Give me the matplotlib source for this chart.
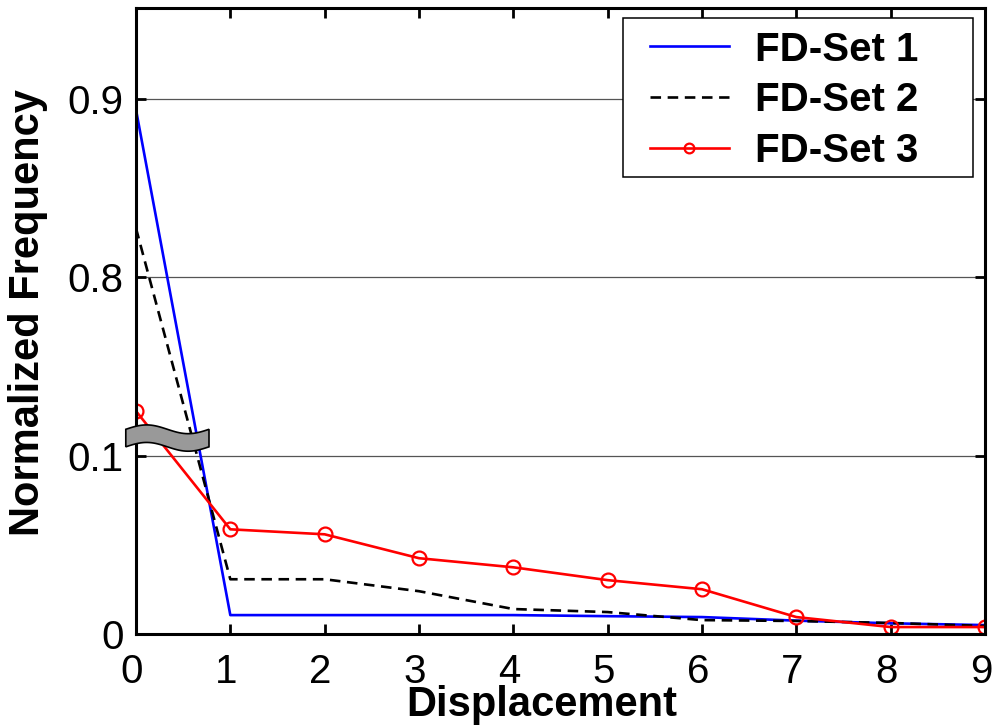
import numpy as np
import matplotlib
matplotlib.use("Agg")
import matplotlib.pyplot as plt
import matplotlib.transforms as mtransforms
from matplotlib.path import Path
from matplotlib.patches import PathPatch, Rectangle

plt.rcParams["font.family"] = ["Liberation Sans", "DejaVu Sans"]

displacement = [0, 1, 2, 3, 4, 5, 6, 7, 8, 9]
fd_set1 = [0.894, 0.0106, 0.0106, 0.0106, 0.0106, 0.0100, 0.0095, 0.0075, 0.0060, 0.0050]
fd_set2 = [0.8275, 0.0307, 0.0307, 0.0240, 0.0140, 0.0123, 0.0078, 0.0073, 0.0062, 0.0045]
fd_set3 = [0.725, 0.0587, 0.0559, 0.0425, 0.0374, 0.0302, 0.0251, 0.0095, 0.0039, 0.0039]
ytick_values = [0, 0.1, 0.8, 0.9]
ytick_labels = ["0", "0.1", "0.8", "0.9"]

# broken axis: 0..0.1 linear, 0.7.. shifted down by 0.6
def forward(y):
    y = np.asarray(y, dtype=float)
    return np.where(y <= 0.1, y, np.where(y >= 0.7, y - 0.6, 0.1 + (y - 0.1) * 1e-6))

def inverse(t):
    t = np.asarray(t, dtype=float)
    return np.where(t <= 0.1, t, t + 0.6)

fig = plt.figure(figsize=(9.94, 7.25), dpi=100)
ax = fig.add_axes([0.1368, 0.1255, 0.8542, 0.8635])
ax.set_yscale("function", functions=(forward, inverse))

ax.plot(displacement, fd_set1, color="blue", lw=1.9, label="FD-Set 1")
ax.plot(displacement, fd_set2, color="black", lw=1.9, ls=(0, (4, 2.5)), label="FD-Set 2")
ax.plot(displacement, fd_set3, color="red", lw=1.9, marker="o", ms=10,
        mfc="none", mec="red", mew=1.6, label="FD-Set 3")

ax.set_xlim(0, 9)
ax.set_ylim(0, 0.951)
ax.set_xticks(displacement)
ax.set_yticks(ytick_values)
ax.set_yticklabels(ytick_labels)
ax.minorticks_off()
ax.yaxis.grid(True, color="#555555", lw=0.9)
ax.set_axisbelow(True)
ax.tick_params(direction="in", length=7, width=2, labelsize=29, top=True, right=True)
ax.tick_params(axis="x", pad=14)
ax.tick_params(axis="y", pad=9)
for s in ax.spines.values():
    s.set_linewidth(2.2)

shift = mtransforms.ScaledTranslation(-4 / 100, 0, fig.dpi_scale_trans)
for lab in ax.get_xticklabels():
    lab.set_transform(lab.get_transform() + shift)

ax.set_xlabel("Displacement", fontsize=30, fontweight="bold")
ax.xaxis.set_label_coords(0.4776, -0.082)
ax.set_ylabel("Normalized Frequency", fontsize=30, fontweight="bold")
ax.yaxis.set_label_coords(-0.104, 0.514)

# legend box drawn separately (wide right margin like the original)
ax.add_patch(Rectangle((0.5736, 0.730), 0.4123, 0.254, transform=ax.transAxes,
                       facecolor="white", edgecolor="black", lw=1.1, zorder=4))
leg = ax.legend(loc="upper left", bbox_to_anchor=(0.6054, 0.964), frameon=False,
                prop={"weight": "bold", "size": 29}, handlelength=1.95,
                borderpad=0, labelspacing=0.32, handletextpad=0.65, borderaxespad=0)
leg.set_zorder(6)
leg.legend_handles[2].set_markersize(7)

# break marker
xs = np.linspace(-0.012, 0.086, 40)
wave = 0.007 * np.sin((xs + 0.012) / 0.098 * 2 * np.pi)
top = 0.327 + wave
bot = 0.299 + wave
verts = list(zip(xs, top)) + list(zip(xs[::-1], bot[::-1])) + [(xs[0], top[0])]
codes = [Path.MOVETO] + [Path.LINETO] * (len(verts) - 2) + [Path.CLOSEPOLY]
ax.add_patch(PathPatch(Path(verts, codes), transform=ax.transAxes, facecolor="#999999",
                       edgecolor="black", lw=1.2, clip_on=False, zorder=5))

fig.savefig("out.png", dpi=100)
